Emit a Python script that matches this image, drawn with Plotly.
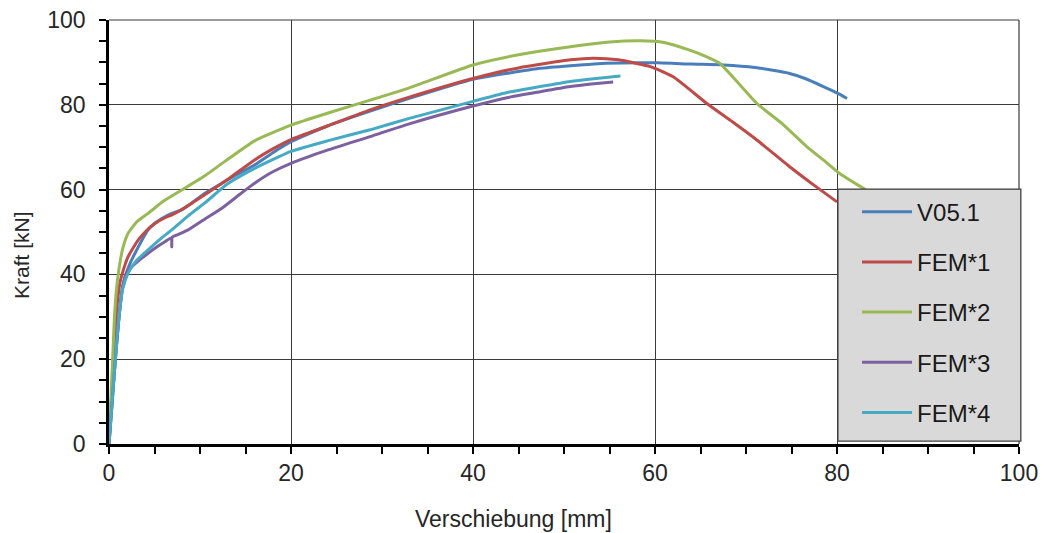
import plotly.graph_objects as go

# ---- data ----
v051_x = [0, 0.35, 0.7, 1.1, 1.5, 1.9, 2.4, 2.86, 3.6, 4.3, 5.0, 5.8, 6.9, 8.0, 9.2, 10.5, 12.4, 14, 16.0, 18, 20.0, 24, 28.7, 33, 40, 44, 47.4, 50.7, 54.7, 60.2, 64, 67.5, 71, 74.8, 76.5, 78.5, 80, 81.1]
v051_y = [0, 10, 20, 30, 37, 40.3, 43, 45, 48, 50.5, 52, 53.2, 54.4, 55.2, 57, 59.1, 61.5, 63.5, 65.8, 68.7, 71.3, 75, 78.5, 81.5, 86, 87.5, 88.6, 89.2, 89.8, 89.9, 89.6, 89.4, 88.8, 87.4, 86.2, 84.3, 82.8, 81.5]

fem1_x = [0, 0.3, 0.6, 0.9, 1.2, 1.57, 2.1, 3.2, 4.1, 5.05, 6.1, 7.25, 9.1, 11.6, 13.3, 16, 18, 20, 24, 28.7, 33, 40, 45, 50.7, 53.2, 56, 59.5, 62, 65.7, 68.5, 71.2, 74.8, 77.5, 80.0]
fem1_y = [0, 12, 25, 33, 38, 41, 44.2, 48.1, 50.3, 52, 53.3, 54.4, 56.8, 60.3, 62.8, 67, 69.6, 71.8, 75, 78.8, 81.8, 86.2, 88.7, 90.6, 91.0, 90.6, 89.0, 86.6, 80.3, 76, 71.7, 65.4, 61, 57.1]

fem2_x = [0, 0.2, 0.4, 0.6, 0.8, 1.03, 1.5, 2.1, 3.1, 4.3, 6, 8.0, 10.5, 12.7, 16, 20, 24, 28.7, 33, 40, 45, 50.7, 55, 58.4, 61, 63.8, 65.5, 67.1, 69, 71.2, 74, 76.7, 78.5, 80.3, 82.9, 84.5]
fem2_y = [0, 10, 20, 30, 36, 40.3, 46, 49.7, 52.5, 54.4, 57.3, 59.9, 63.2, 66.6, 71.5, 75.2, 78, 81.1, 84, 89.4, 91.8, 93.7, 94.8, 95.1, 94.7, 92.9, 91.5, 89.8, 85.5, 80.3, 75.5, 70.1, 67, 63.8, 60.3, 58.3]

fem3_x = [0, 0.35, 0.7, 1.1, 1.5, 1.9, 2.5, 3.4, 4.3, 5.2, 6.15, 6.85, 6.9, 6.95, 7.7, 8.7, 10.5, 12.4, 14.2, 16.2, 18, 20, 24, 28.7, 33, 40, 44, 47.4, 50.7, 53, 55.4]
fem3_y = [0, 10, 20, 30, 37, 40.3, 41.8, 43.5, 45, 46.4, 47.7, 48.6, 46.5, 48.8, 49.5, 50.5, 53, 55.6, 58.6, 61.8, 64.2, 66.2, 69.3, 72.5, 75.5, 79.7, 81.8, 83.1, 84.3, 84.9, 85.4]

fem4_x = [0, 0.35, 0.7, 1.1, 1.5, 2.1, 3.0, 4.3, 5.5, 6.9, 8.7, 10.5, 13, 16, 20, 24, 28.7, 33, 40, 44, 47.4, 50.7, 53, 56.2]
fem4_y = [0, 10, 20, 30, 36.5, 40.3, 43.2, 45.8, 48.1, 50.5, 53.8, 56.8, 61.3, 65, 69.0, 71.5, 74.1, 76.8, 80.8, 83, 84.3, 85.5, 86.1, 86.8]

names = ["V05.1", "FEM*1", "FEM*2", "FEM*3", "FEM*4"]
colors = ["#4a7ebb", "#be4b48", "#98b954", "#7d60a0", "#46aac5"]
series = [(v051_x, v051_y), (fem1_x, fem1_y), (fem2_x, fem2_y), (fem3_x, fem3_y), (fem4_x, fem4_y)]

x_ticks = [0, 20, 40, 60, 80, 100]
y_ticks = [0, 20, 40, 60, 80, 100]
x_title = "Verschiebung [mm]"
y_title = "Kraft [kN]"

fig = go.Figure()
for name, col, (xs, ys) in zip(names, colors, series):
    fig.add_trace(go.Scatter(x=xs, y=ys, mode="lines", name=name, legendgroup=name,
                             line=dict(color=col, width=3, shape="spline", smoothing=0.5)))

# outer grid border lines (top and right), which are otherwise half-clipped
fig.add_shape(type="line", xref="paper", yref="paper", x0=0, x1=1, y0=1, y1=1,
              line=dict(color="#3a3a3a", width=1.2), layer="below")
fig.add_shape(type="line", xref="paper", yref="paper", x0=1, x1=1, y0=0, y1=1,
              line=dict(color="#3a3a3a", width=1.2), layer="below")

fig.add_shape(type="rect", xref="paper", yref="paper", x0=0.801, x1=1.002, y0=0.007, y1=0.601,
              fillcolor="#d9d9d9", line=dict(color="#404040", width=1.3), layer="above")

fig.add_annotation(text=x_title, xref="paper", yref="paper", x=0.445, y=-0.177,
                   xanchor="center", yanchor="middle", showarrow=False,
                   font=dict(size=23, color="#262626"))
fig.add_annotation(text=y_title, xref="paper", yref="paper", x=-0.0956, y=0.4458,
                   xanchor="center", yanchor="middle", textangle=-90, showarrow=False,
                   font=dict(size=21, color="#262626"))

fig.update_layout(
    width=1043, height=533,
    margin=dict(l=109, r=24, t=20, b=89),
    plot_bgcolor="white", paper_bgcolor="white",
    font=dict(family="Liberation Sans, Arial, sans-serif", size=21, color="#262626"),
    legend=dict(x=0.822, y=0.60, xanchor="left", yanchor="top", bgcolor="rgba(0,0,0,0)",
                font=dict(size=24, color="#1a1a1a"), tracegroupgap=16, itemwidth=50),
    xaxis=dict(range=[0, 100], tickvals=x_ticks, showgrid=True, gridcolor="#3a3a3a", gridwidth=1.2,
               showline=True, linecolor="black", linewidth=2.5, ticks="outside", ticklen=7,
               tickwidth=1.5, tickcolor="black", zeroline=False, ticklabelstandoff=0, automargin=False,
               tickfont=dict(size=23),
               minor=dict(dtick=5, ticks="outside", ticklen=7, tickwidth=1.5, tickcolor="black", showgrid=False)),
    yaxis=dict(range=[0, 100], tickvals=y_ticks, showgrid=True, gridcolor="#3a3a3a", gridwidth=1.2,
               showline=True, linecolor="black", linewidth=2.5, ticks="outside", ticklen=7,
               tickwidth=1.5, tickcolor="black", zeroline=False, ticklabelstandoff=9, automargin=False,
               tickfont=dict(size=23),
               minor=dict(dtick=5, ticks="outside", ticklen=7, tickwidth=1.5, tickcolor="black", showgrid=False)),
)

fig.write_html("out.html", config={"displayModeBar": False},
               post_script="document.body.style.margin='0';document.body.style.overflow='hidden';")
